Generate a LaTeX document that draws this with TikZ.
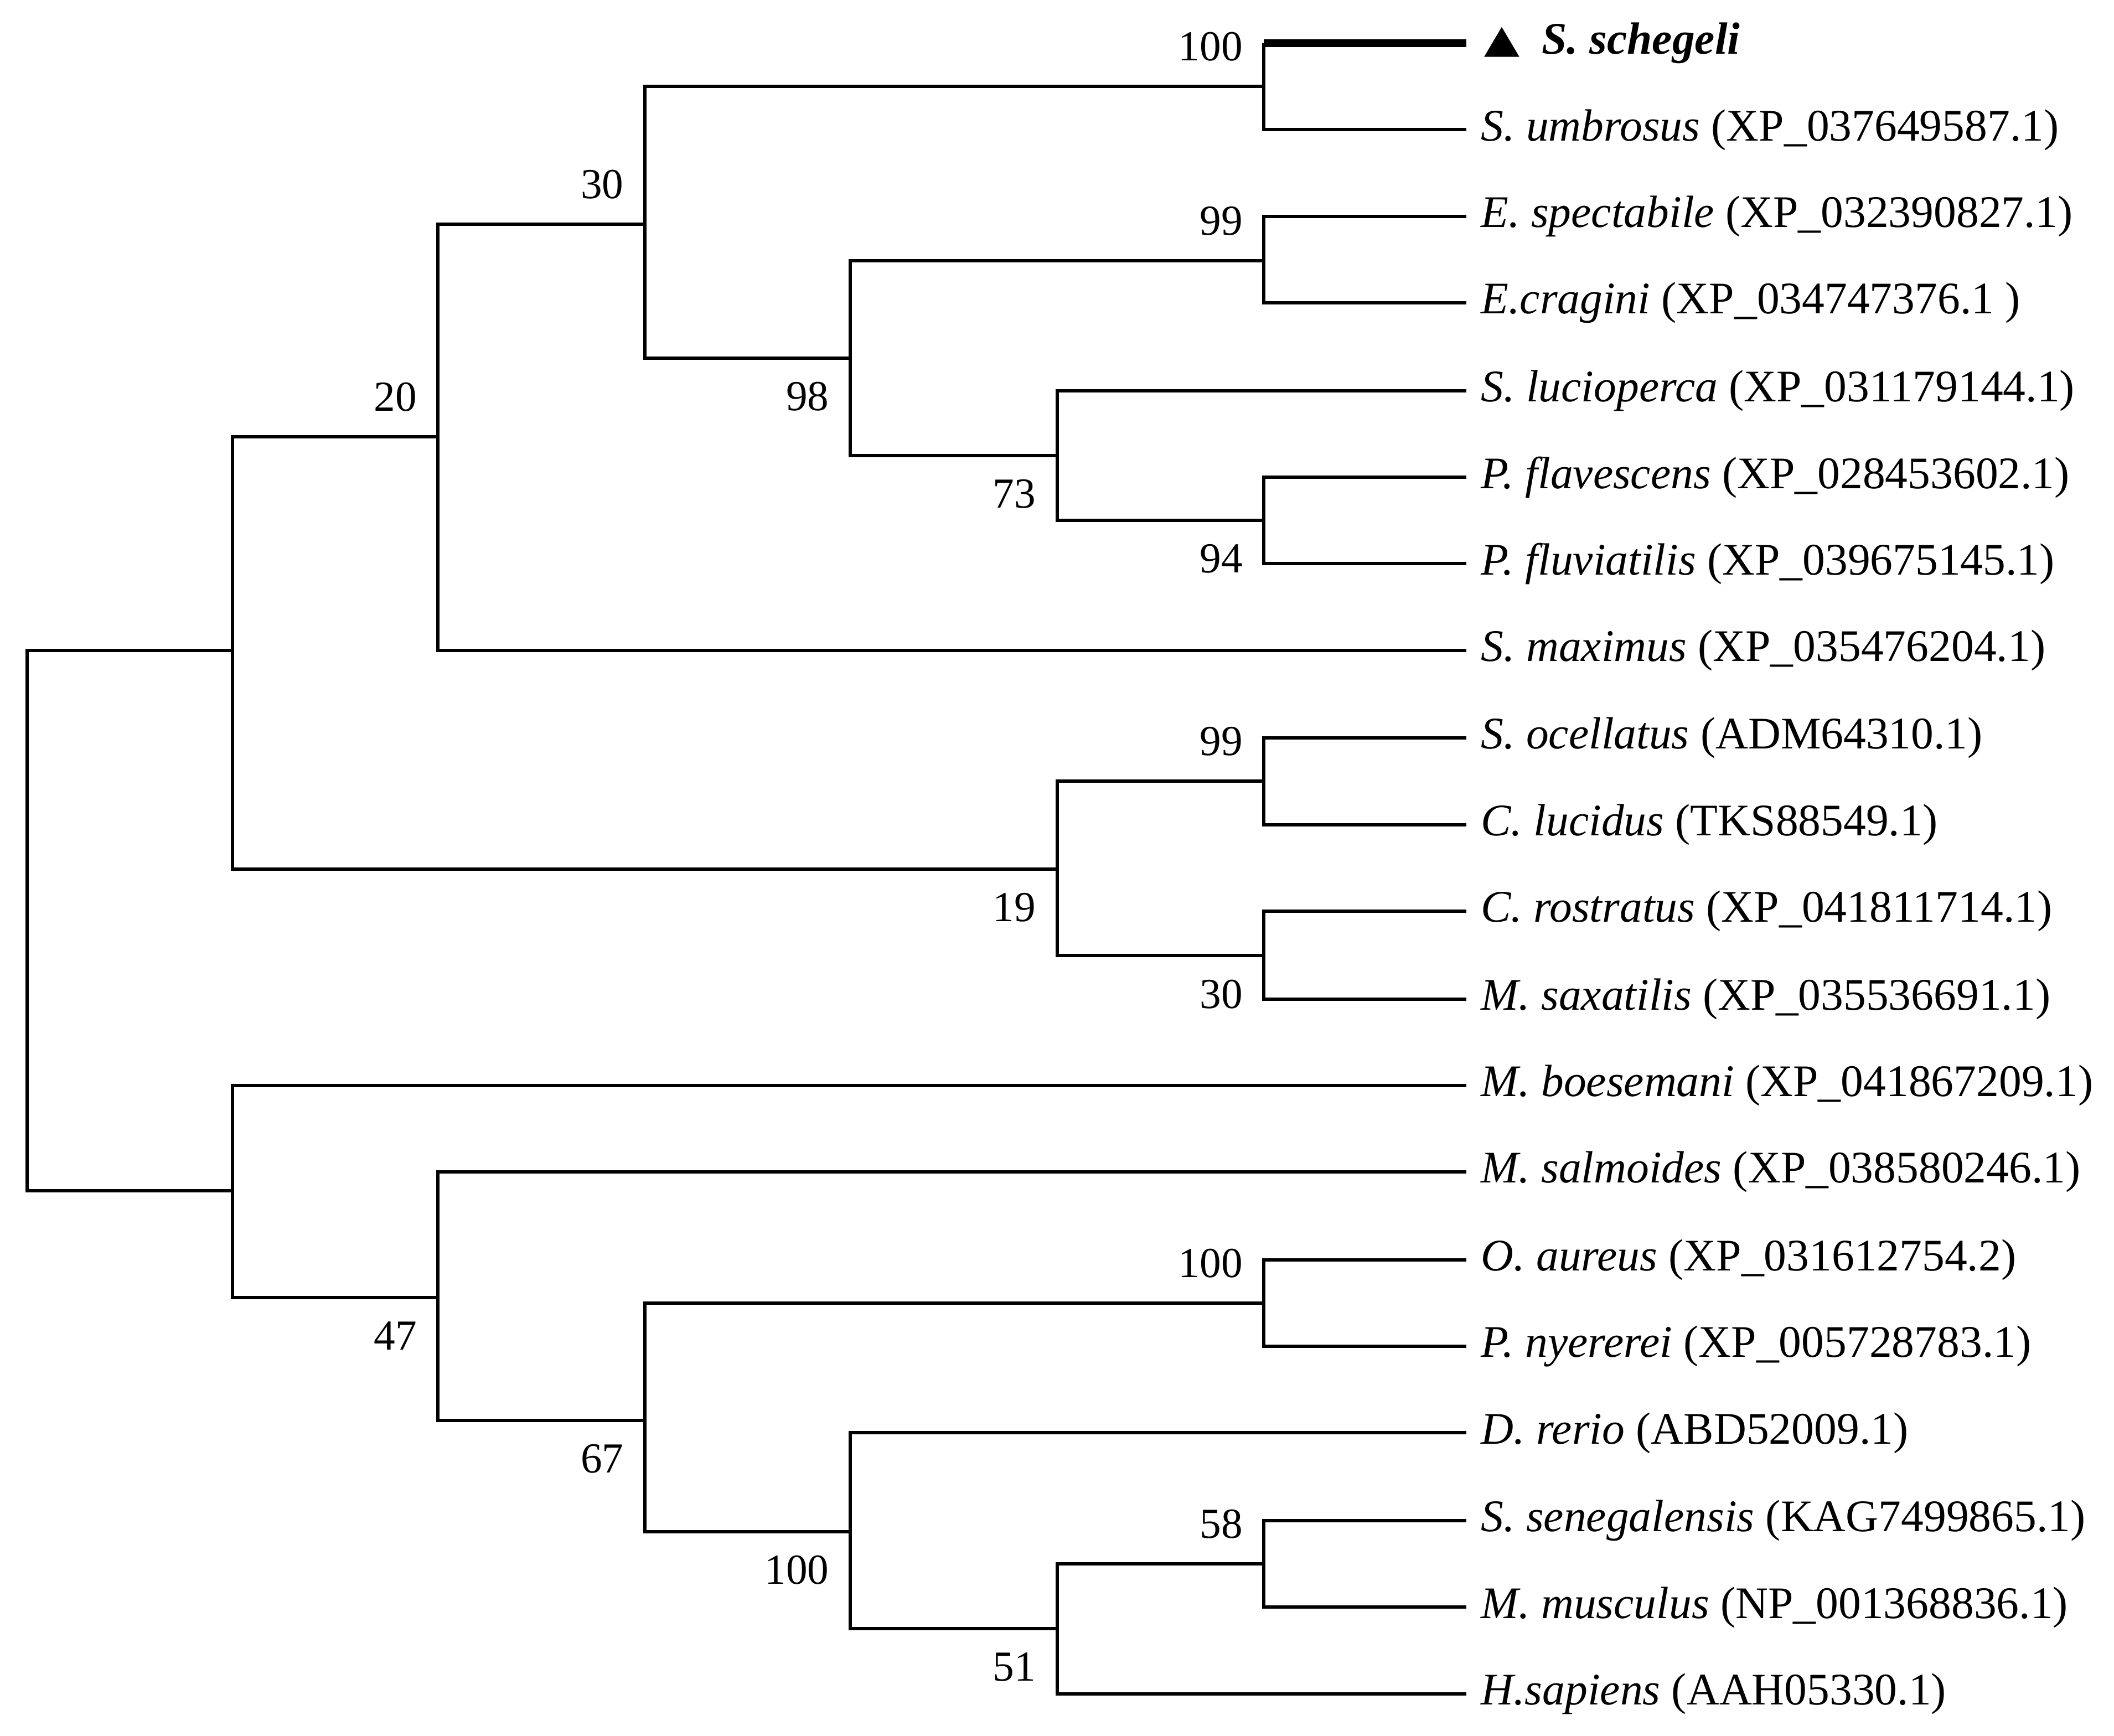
\documentclass[tikz,border=0pt]{standalone}
\usepackage{fontspec}
\setmainfont{Liberation Serif}
\begin{document}
\begin{tikzpicture}[x=0.01cm,y=-0.01cm,
  br/.style={line width=0.7pt},
  lf/.style={anchor=west,inner sep=0pt,font=\fontsize{9.5}{11}\selectfont},
  bsa/.style={anchor=south east,inner sep=0pt,font=\fontsize{9}{11}\selectfont},
  bsb/.style={anchor=north east,inner sep=0pt,font=\fontsize{9}{11}\selectfont}]
\useasboundingbox (0,0) rectangle (1564,1284);
% internal nodes
\coordinate (root) at (20,681);
\coordinate (A) at (172,481);
\coordinate (B) at (172,881);
\coordinate (n20) at (324,323);
\coordinate (n30) at (477,166);
\coordinate (n100a) at (935,64);
\coordinate (n98) at (629,265);
\coordinate (n99a) at (935,193);
\coordinate (n73) at (782,337);
\coordinate (n94) at (935,385);
\coordinate (n19) at (782,643);
\coordinate (n99b) at (935,578);
\coordinate (n30b) at (935,707);
\coordinate (n47) at (324,960);
\coordinate (n67) at (477,1051);
\coordinate (n100b) at (935,964);
\coordinate (n100c) at (629,1133);
\coordinate (n51) at (782,1205);
\coordinate (n58) at (935,1157);
% leaves
\foreach \i/\y in {1/32,2/96,3/160,4/224,5/289,6/353,7/417,8/481,9/546,10/610,11/674,12/739,13/803,14/867,15/932,16/996,17/1060,18/1125,19/1189,20/1253}
  \coordinate (l\i) at (1085,\y);
\coordinate (c1) at (n100a |- l1);
% branches
\draw[br] (root) |- (A); \draw[br] (root) |- (B);
\draw[br] (A) |- (n20); \draw[br] (A) |- (n19);
\draw[br] (n20) |- (n30); \draw[br] (n20) |- (l8);
\draw[br] (n30) |- (n100a); \draw[br] (n30) |- (n98);
\draw[br] (n100a) -- (c1); \draw[line width=1.6pt] (c1) -- (l1); \draw[br] (n100a) |- (l2);
\draw[br] (n98) |- (n99a); \draw[br] (n98) |- (n73);
\draw[br] (n99a) |- (l3); \draw[br] (n99a) |- (l4);
\draw[br] (n73) |- (l5); \draw[br] (n73) |- (n94);
\draw[br] (n94) |- (l6); \draw[br] (n94) |- (l7);
\draw[br] (n19) |- (n99b); \draw[br] (n19) |- (n30b);
\draw[br] (n99b) |- (l9); \draw[br] (n99b) |- (l10);
\draw[br] (n30b) |- (l11); \draw[br] (n30b) |- (l12);
\draw[br] (B) |- (l13); \draw[br] (B) |- (n47);
\draw[br] (n47) |- (l14); \draw[br] (n47) |- (n67);
\draw[br] (n67) |- (n100b); \draw[br] (n67) |- (n100c);
\draw[br] (n100b) |- (l15); \draw[br] (n100b) |- (l16);
\draw[br] (n100c) |- (l17); \draw[br] (n100c) |- (n51);
\draw[br] (n51) |- (n58); \draw[br] (n51) |- (l20);
\draw[br] (n58) |- (l18); \draw[br] (n58) |- (l19);
% bootstrap values
\tikzset{up/.style={shift={(-15,-18)}}, dn/.style={shift={(-15,17)}}}
\node[bsa] (b1) at ([up]n100a) {100};
\node[bsa] (b2) at ([up]n30) {30};
\node[bsa] (b3) at ([up]n20) {20};
\node[bsa] (b4) at ([up]n99a) {99};
\node[bsb] (b5) at ([dn]n98) {98};
\node[bsb] (b6) at ([dn]n73) {73};
\node[bsb] (b7) at ([dn]n94) {94};
\node[bsa] (b8) at ([up]n99b) {99};
\node[bsb] (b9) at ([dn]n19) {19};
\node[bsb] (b10) at ([dn]n30b) {30};
\node[bsb] (b11) at ([dn]n47) {47};
\node[bsb] (b12) at ([dn]n67) {67};
\node[bsa] (b13) at ([up]n100b) {100};
\node[bsb] (b14) at ([dn]n100c) {100};
\node[bsa] (b15) at ([up]n58) {58};
\node[bsb] (b16) at ([dn]n51) {51};
% leaf labels
\fill (1098,42) -- (1111,20) -- (1124,42) -- cycle;
\node[lf] (t1) at (1140,32) {\textbf{\textit{S. schegeli}}};
\node[lf] (t2) at (1095,96) {\textit{S. umbrosus} (XP\_037649587.1)};
\node[lf] (t3) at (1095,160) {\textit{E. spectabile} (XP\_032390827.1)};
\node[lf] (t4) at (1095,224) {\textit{E.cragini} (XP\_034747376.1 )};
\node[lf] (t5) at (1095,289) {\textit{S. lucioperca} (XP\_031179144.1)};
\node[lf] (t6) at (1095,353) {\textit{P. flavescens} (XP\_028453602.1)};
\node[lf] (t7) at (1095,417) {\textit{P. fluviatilis} (XP\_039675145.1)};
\node[lf] (t8) at (1095,481) {\textit{S. maximus} (XP\_035476204.1)};
\node[lf] (t9) at (1095,546) {\textit{S. ocellatus} (ADM64310.1)};
\node[lf] (t10) at (1095,610) {\textit{C. lucidus} (TKS88549.1)};
\node[lf] (t11) at (1095,674) {\textit{C. rostratus} (XP\_041811714.1)};
\node[lf] (t12) at (1095,739) {\textit{M. saxatilis} (XP\_035536691.1)};
\node[lf] (t13) at (1095,803) {\textit{M. boesemani} (XP\_041867209.1)};
\node[lf] (t14) at (1095,867) {\textit{M. salmoides} (XP\_038580246.1)};
\node[lf] (t15) at (1095,932) {\textit{O. aureus} (XP\_031612754.2)};
\node[lf] (t16) at (1095,996) {\textit{P. nyererei} (XP\_005728783.1)};
\node[lf] (t17) at (1095,1060) {\textit{D. rerio} (ABD52009.1)};
\node[lf] (t18) at (1095,1125) {\textit{S. senegalensis} (KAG7499865.1)};
\node[lf] (t19) at (1095,1189) {\textit{M. musculus} (NP\_001368836.1)};
\node[lf] (t20) at (1095,1253) {\textit{H.sapiens} (AAH05330.1)};
\end{tikzpicture}
\end{document}
